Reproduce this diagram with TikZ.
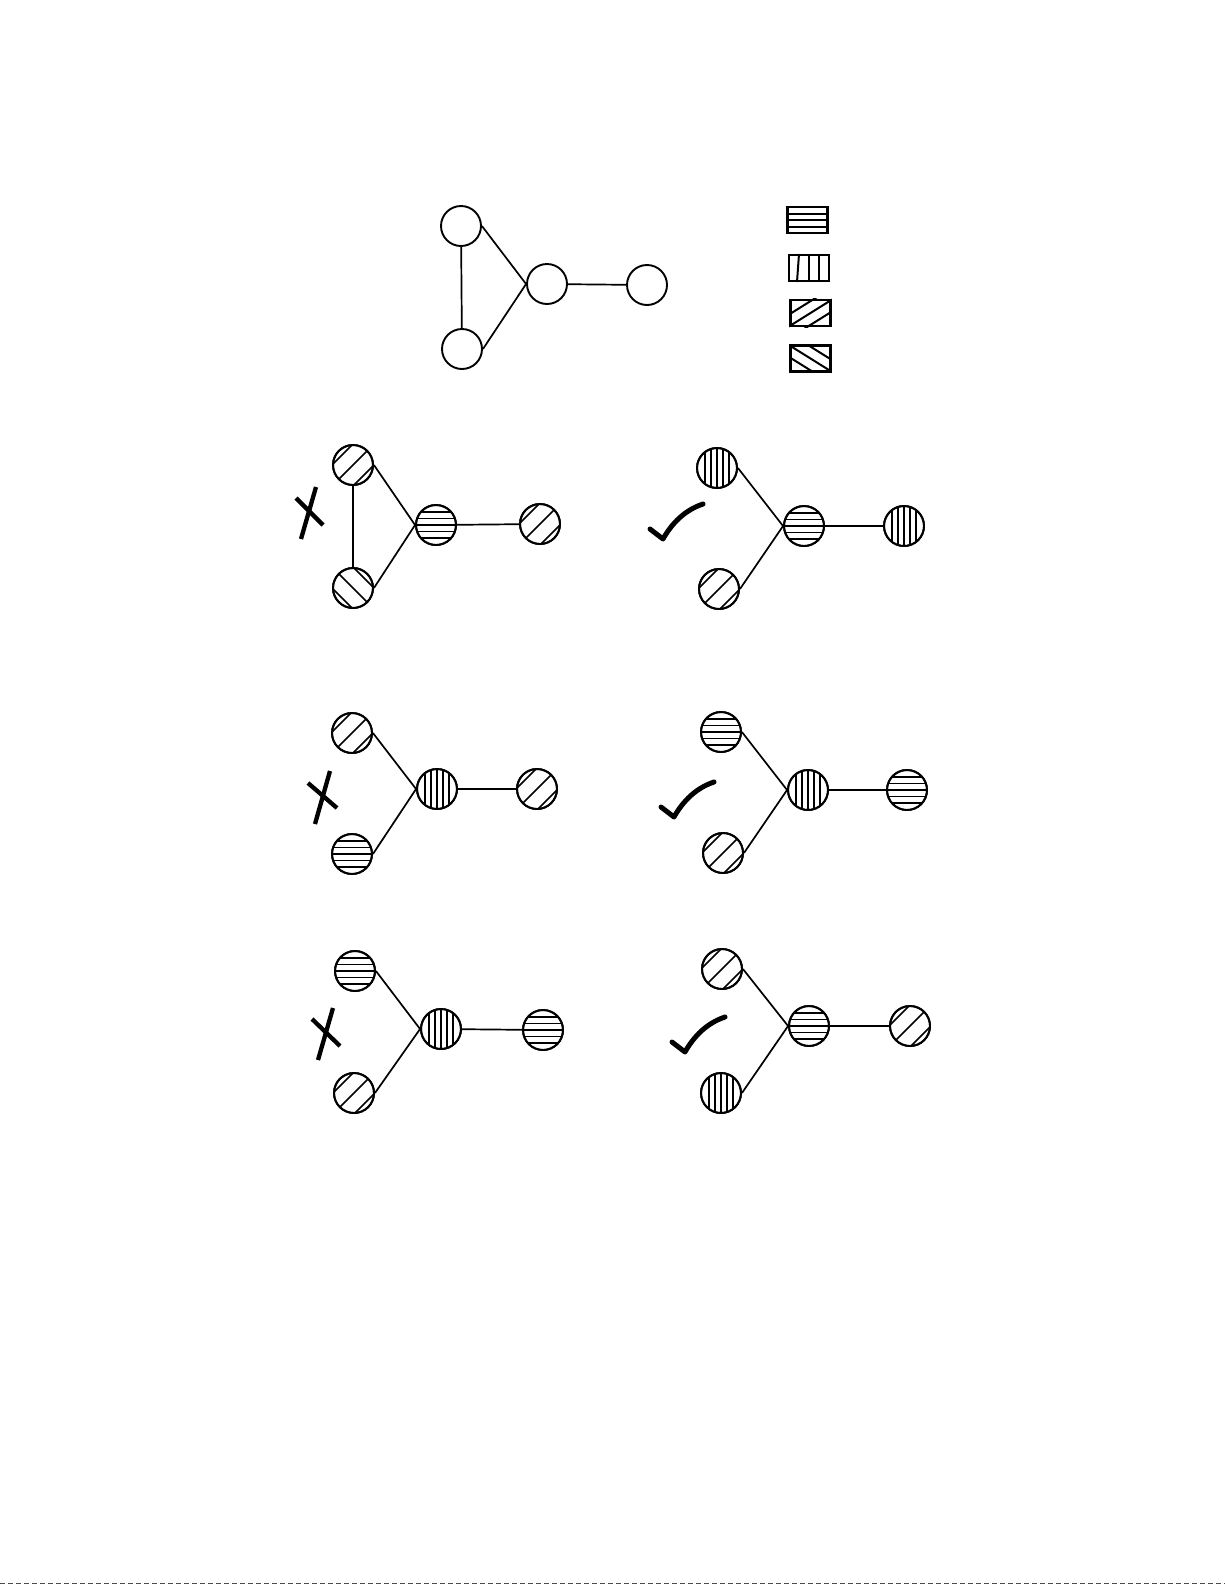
\documentclass[tikz,border=0pt]{standalone}
\begin{document}
\begin{tikzpicture}[x=1pt,y=-1pt,
  vtx/.style={circle, draw, line width=1.9pt, minimum size=40pt, inner sep=0pt},
  edge/.style={line width=1.7pt},
  hatch/.style={line width=1.6pt},
  legbox/.style={draw, line width=2.4pt, minimum width=40pt, minimum height=26pt, inner sep=0pt},
  leghatch/.style={line width=2pt},
  xstroke/.style={line width=4.3pt},
  tickstroke/.style={line width=5pt, line join=round, line cap=round}]
\useasboundingbox (0,0) rectangle (1225,1585);
\fill[white] (0,0) rectangle (1225,1585);

\newcommand\hatchH[1]{\begin{scope}\clip (#1.center) circle (20pt);
  \foreach \d in {-13,-6.5,0,6.5,13} \draw[hatch] ([shift={(-22,\d)}]#1.center) -- ([shift={(22,\d)}]#1.center);
  \end{scope}}
\newcommand\hatchV[1]{\begin{scope}\clip (#1.center) circle (20pt);
  \foreach \d in {-12,-6,0,6,12} \draw[hatch] ([shift={(\d,-22)}]#1.center) -- ([shift={(\d,22)}]#1.center);
  \end{scope}}
\newcommand\hatchD[1]{\begin{scope}\clip (#1.center) circle (20pt);
  \foreach \d in {-10.5,0,10.5} \draw[hatch] ([shift={(-25+\d,25+\d)}]#1.center) -- ([shift={(25+\d,-25+\d)}]#1.center);
  \end{scope}}
\newcommand\hatchB[1]{\begin{scope}\clip (#1.center) circle (20pt);
  \foreach \d in {-10.5,0,10.5} \draw[hatch] ([shift={(-25+\d,-25-\d)}]#1.center) -- ([shift={(25+\d,25-\d)}]#1.center);
  \end{scope}}
\newcommand\xmark[4]{\draw[xstroke] #1 -- #2; \draw[xstroke] #3 -- #4;}
\newcommand\tickmark[1]{\begin{scope}[shift={#1}]
  \draw[tickstroke] (-13,-10) -- (0,0) .. controls (9,-16) and (22,-29) .. (40,-35);
  \end{scope}}

% ---------- top graph ----------
\node[vtx] (t1) at (461,226) {};
\node[vtx] (t2) at (462,349) {};
\node[vtx] (t3) at (547,284) {};
\node[vtx] (t4) at (647,285) {};
\draw[edge] (t1) -- (t2);
\draw[edge] (t1.east) -- (t3.west);
\draw[edge] (t2.east) -- (t3.west);
\draw[edge] (t3) -- (t4);

% ---------- legend ----------
\node[legbox] (l1) at (807.5,220) {};
\node[legbox] (l2) at (809,268) {};
\node[legbox] (l3) at (810.5,313) {};
\node[legbox] (l4) at (810.5,358.5) {};
\begin{scope}\clip (l1.south west) rectangle (l1.north east);
  \foreach \d in {-6.5,0,6.5} \draw[leghatch] ([shift={(-22,\d)}]l1.center) -- ([shift={(22,\d)}]l1.center);
\end{scope}
\begin{scope}\clip (l2.south west) rectangle (l2.north east);
  \draw[leghatch] ([shift={(-10,-14)}]l2.center) -- ([shift={(-12,14)}]l2.center);
  \foreach \d in {0,10} \draw[leghatch] ([shift={(\d,-14)}]l2.center) -- ([shift={(\d,14)}]l2.center);
\end{scope}
\begin{scope}\clip (l3.south west) rectangle (l3.north east);
  \foreach \d in {-19,0,19} \draw[leghatch] ([shift={(\d-40,25)}]l3.center) -- ([shift={(\d+40,-25)}]l3.center);
\end{scope}
\begin{scope}\clip (l4.south west) rectangle (l4.north east);
  \foreach \d in {-19,0,19} \draw[leghatch] ([shift={(\d-40,-25)}]l4.center) -- ([shift={(\d+40,25)}]l4.center);
\end{scope}
\node[legbox] at (l1) {};
\node[legbox] at (l2) {};
\node[legbox] at (l3) {};
\node[legbox] at (l4) {};

% ---------- row 1 left ----------
\node[vtx] (a1) at (353,465) {};
\node[vtx] (a2) at (353,588) {};
\node[vtx] (a3) at (436,525) {};
\node[vtx] (a4) at (540,524) {};
\hatchD{a1}\hatchB{a2}\hatchH{a3}\hatchD{a4}
\draw[edge] (a1) -- (a2);
\draw[edge] (a1.east) -- (a3.west);
\draw[edge] (a2.east) -- (a3.west);
\draw[edge] (a3) -- (a4);
\xmark{(316,487)}{(301,539)}{(296,498)}{(323,525)}

% ---------- row 1 right ----------
\node[vtx] (b1) at (717,468) {};
\node[vtx] (b2) at (719,589) {};
\node[vtx] (b3) at (804,526) {};
\node[vtx] (b4) at (904,526) {};
\hatchV{b1}\hatchD{b2}\hatchH{b3}\hatchV{b4}
\draw[edge] (b1.east) -- (b3.west);
\draw[edge] (b2.east) -- (b3.west);
\draw[edge] (b3) -- (b4);
\tickmark{(663,539)}

% ---------- row 2 left ----------
\node[vtx] (c1) at (352,733) {};
\node[vtx] (c2) at (352,854) {};
\node[vtx] (c3) at (437,789) {};
\node[vtx] (c4) at (537,789) {};
\hatchD{c1}\hatchH{c2}\hatchV{c3}\hatchD{c4}
\draw[edge] (c1.east) -- (c3.west);
\draw[edge] (c2.east) -- (c3.west);
\draw[edge] (c3) -- (c4);
\xmark{(330,771)}{(315,824)}{(308,783)}{(337,808)}

% ---------- row 2 right ----------
\node[vtx] (d1) at (721,732) {};
\node[vtx] (d2) at (723,853) {};
\node[vtx] (d3) at (808,790) {};
\node[vtx] (d4) at (907,790) {};
\hatchH{d1}\hatchD{d2}\hatchV{d3}\hatchH{d4}
\draw[edge] (d1.east) -- (d3.west);
\draw[edge] (d2.east) -- (d3.west);
\draw[edge] (d3) -- (d4);
\tickmark{(674,817)}

% ---------- row 3 left ----------
\node[vtx] (e1) at (355,971) {};
\node[vtx] (e2) at (354,1093) {};
\node[vtx] (e3) at (441,1029) {};
\node[vtx] (e4) at (543,1030) {};
\hatchH{e1}\hatchD{e2}\hatchV{e3}\hatchH{e4}
\draw[edge] (e1.east) -- (e3.west);
\draw[edge] (e2.east) -- (e3.west);
\draw[edge] (e3) -- (e4);
\xmark{(333,1008)}{(318,1060)}{(312,1019)}{(340,1046)}

% ---------- row 3 right ----------
\node[vtx] (f1) at (722,969) {};
\node[vtx] (f2) at (721,1093) {};
\node[vtx] (f3) at (809,1026) {};
\node[vtx] (f4) at (910,1026) {};
\hatchD{f1}\hatchV{f2}\hatchH{f3}\hatchD{f4}
\draw[edge] (f1.east) -- (f3.west);
\draw[edge] (f2.east) -- (f3.west);
\draw[edge] (f3) -- (f4);
\tickmark{(685,1052)}

% redraw circle outlines over the hatching
\foreach \n in {a1,a2,a3,a4,b1,b2,b3,b4,c1,c2,c3,c4,d1,d2,d3,d4,e1,e2,e3,e4,f1,f2,f3,f4}
  \draw[line width=1.9pt] (\n.center) circle (20pt);

% scan edge at the bottom
\draw[line width=1pt, black!70, dash pattern=on 5pt off 3pt] (0,1583.5) -- (1225,1583.5);
\end{tikzpicture}
\end{document}
